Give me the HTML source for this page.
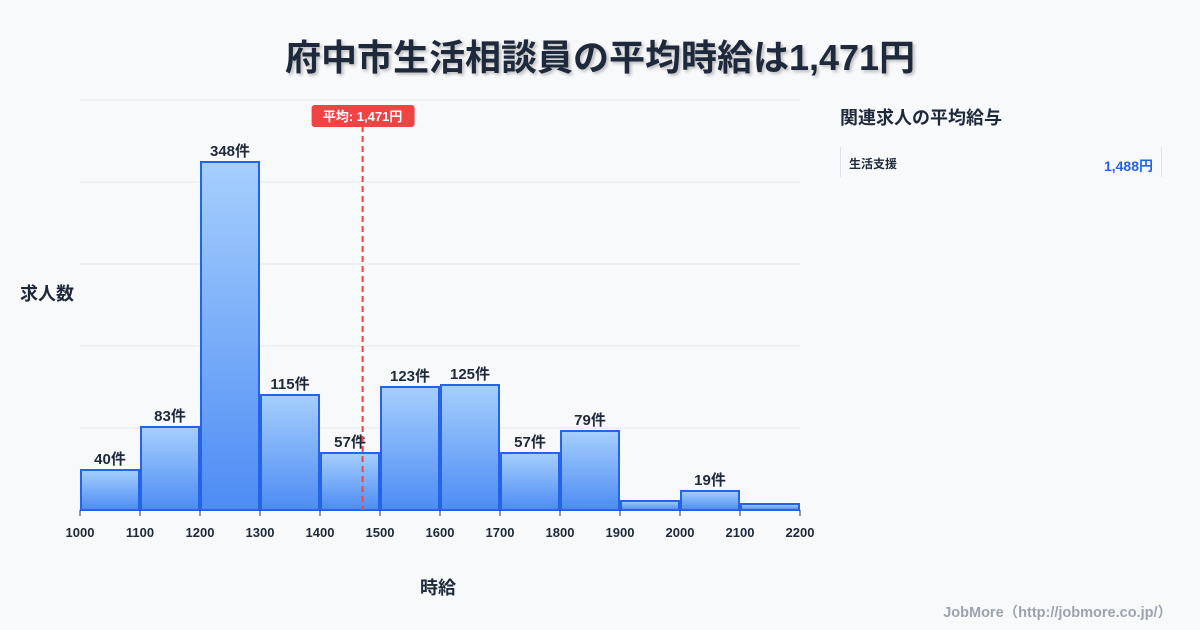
<!DOCTYPE html>
<html><head><meta charset="utf-8"><style>
body{margin:0;width:1200px;height:630px;background:#f8f9fb;font-family:"Liberation Sans","Noto Sans CJK JP",sans-serif;overflow:hidden;position:relative}
.t{position:absolute;white-space:nowrap}
</style></head><body>
<div class="t" style="left:0;width:1200px;top:29px;text-align:center;font-size:36px;font-weight:bold;color:#1e293b;text-shadow:2px 2px 3px rgba(0,0,0,0.25)">府中市生活相談員の平均時給は1,471円</div>
<div class="t" style="left:20px;top:280px;font-size:18px;font-weight:bold;color:#1e293b">求人数</div>
<div class="t" style="left:420px;top:574px;font-size:18px;font-weight:bold;color:#1e293b">時給</div>
<div class="t" style="left:840px;top:104px;font-size:18px;font-weight:bold;color:#1e293b">関連求人の平均給与</div>
<div style="position:absolute;left:840px;top:147px;width:320px;height:30px;border-left:1px solid #dde3ea;border-right:1px solid #dde3ea">
<div class="t" style="left:8px;top:8px;font-size:12px;font-weight:bold;color:#1e293b">生活支援</div>
<div class="t" style="right:8px;top:9px;font-size:14px;font-weight:bold;color:#2563eb">1,488円</div>
</div>
<div class="t" style="right:28px;top:601px;font-size:14.5px;font-weight:bold;color:#9ca3af">JobMore（http://jobmore.co.jp/）</div>
<svg id="c" width="1200" height="630" style="position:absolute;left:0;top:0">
<defs><linearGradient id="g" x1="0" y1="0" x2="0" y2="1"><stop offset="0" stop-color="#a6cffd"/><stop offset="1" stop-color="#4d8cf4"/></linearGradient></defs>
</svg>
<script>
const binStarts=[1000,1100,1200,1300,1400,1500,1600,1700,1800,1900,2000,2100];
const counts=[40,83,348,115,57,123,125,57,79,9,19,6];
const showLabel=[true,true,true,true,true,true,true,true,true,false,true,false];
const xTicks=[1000,1100,1200,1300,1400,1500,1600,1700,1800,1900,2000,2100,2200];
const yGrid=[0,82,164,246,328,410];
const avg=1471;
const NS="http://www.w3.org/2000/svg";
const svg=document.getElementById('c');
const X=v=>80+(v-1000)*0.6;
const Y=v=>510-v*(410/410);
function mk(t,a){const e=document.createElementNS(NS,t);for(const k in a)e.setAttribute(k,a[k]);svg.appendChild(e);return e;}
yGrid.forEach(v=>{const l=mk('line',{x1:80,x2:800,y1:Y(v),y2:Y(v),stroke:'#e3e7ec','stroke-width':1});

});
binStarts.forEach((b,i)=>{const x0=X(b)+1,x1=X(b+100)-1;
const r=mk('rect',{x:x0,y:Y(counts[i]),width:x1-x0,height:Y(0)-Y(counts[i]),fill:'url(#g)',stroke:'#2563eb','stroke-width':2});


if(showLabel[i]){const t=mk('text',{x:(x0+x1)/2,y:Y(counts[i])-6,'text-anchor':'middle','font-size':15,'font-weight':'bold',fill:'#1e293b'});t.textContent=counts[i]+'件';

}});
xTicks.forEach(v=>{const l=mk('line',{x1:X(v),x2:X(v),y1:510,y2:516,stroke:'#333','stroke-width':1});


const t=mk('text',{x:X(v),y:537,'text-anchor':'middle','font-size':13,'font-weight':'bold',fill:'#1e293b'});t.textContent=v;

});
const al=mk('line',{x1:X(avg),x2:X(avg),y1:126,y2:510,stroke:'#ef4444','stroke-width':2,'stroke-dasharray':'6,4'});


const ab=mk('rect',{x:X(avg)-51,y:105,width:103,height:22,rx:3,fill:'#ef4444'});


const at=mk('text',{x:X(avg),y:121,'text-anchor':'middle','font-size':13,'font-weight':'bold',fill:'#fff'});at.textContent='平均: 1,471円';


</script>
</body></html>
